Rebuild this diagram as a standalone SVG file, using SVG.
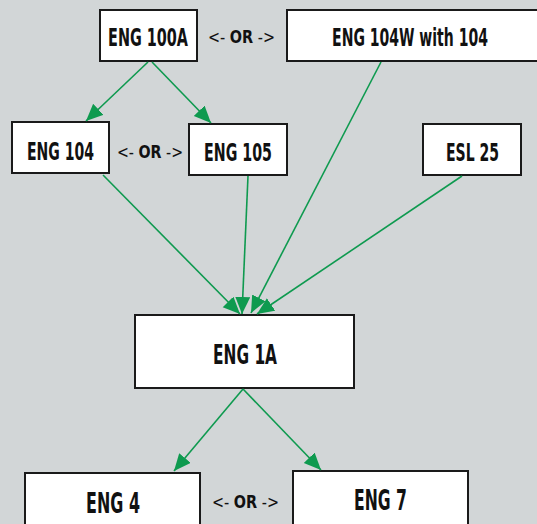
<svg xmlns="http://www.w3.org/2000/svg" width="537" height="524" viewBox="0 0 537 524">
<style>
.box{fill:#ffffff;stroke:#1a1a1a;stroke-width:2}
.lbl{font-family:"DejaVu Sans",sans-serif;font-weight:bold;fill:#111;text-anchor:middle}
.or{font-family:"DejaVu Sans",sans-serif;fill:#111;text-anchor:middle;font-size:18px}
.or .b{font-weight:bold}
.edge{stroke:#0e9a4f;stroke-width:1.6;fill:none;marker-end:url(#ah)}
</style>
<defs>
<marker id="ah" markerUnits="userSpaceOnUse" markerWidth="18" markerHeight="16" refX="17" refY="7.5" orient="auto">
<path d="M0,0 L17,7.5 L0,15 z" fill="#0e9a4f"/>
</marker>
</defs>
<rect x="0" y="0" width="537" height="524" fill="#d2d6d7"/>
<g id="eng100a"><rect class="box" x="100" y="10" width="97" height="51"/><text class="lbl" font-size="25" transform="translate(148,46) scale(0.576,1)">ENG 100A</text></g>
<g id="eng104w"><rect class="box" x="287" y="10" width="255" height="51"/><text class="lbl" font-size="25" transform="translate(410,46) scale(0.561,1)">ENG 104W with 104</text></g>
<g id="or1"><text class="or" transform="translate(241.5,43) scale(0.8,1)">&lt;- <tspan class="b">OR</tspan> -&gt;</text></g>
<g id="eng104"><rect class="box" x="12" y="122" width="97" height="51"/><text class="lbl" font-size="25" transform="translate(60.5,160) scale(0.561,1)">ENG 104</text></g>
<g id="or2"><text class="or" transform="translate(150,158) scale(0.79,1)">&lt;- <tspan class="b">OR</tspan> -&gt;</text></g>
<g id="eng105"><rect class="box" x="189" y="124" width="98" height="51"/><text class="lbl" font-size="25" transform="translate(238,161) scale(0.569,1)">ENG 105</text></g>
<g id="esl25"><rect class="box" x="423" y="124" width="98" height="51"/><text class="lbl" font-size="25" transform="translate(472.5,161) scale(0.561,1)">ESL 25</text></g>
<g id="eng1a"><rect class="box" x="135" y="315" width="219" height="73"/><text class="lbl" font-size="26" transform="translate(245,364) scale(0.592,1)">ENG 1A</text></g>
<g id="eng4"><rect class="box" x="25" y="473" width="175" height="60"/><text class="lbl" font-size="29" transform="translate(113,513) scale(0.55,1)">ENG 4</text></g>
<g id="or3"><text class="or" transform="translate(245.5,508) scale(0.8,1)">&lt;- <tspan class="b">OR</tspan> -&gt;</text></g>
<g id="eng7"><rect class="box" x="293" y="471" width="175" height="62"/><text class="lbl" font-size="29" transform="translate(380.5,510) scale(0.54,1)">ENG 7</text></g>
<g id="connectors">
<line class="edge" x1="148" y1="62" x2="86" y2="121"/>
<line class="edge" x1="152" y1="62" x2="211" y2="123"/>
<line class="edge" x1="381" y1="62" x2="251" y2="313"/>
<line class="edge" x1="103" y1="175" x2="240" y2="314"/>
<line class="edge" x1="248" y1="176" x2="242" y2="314"/>
<line class="edge" x1="462" y1="176" x2="257" y2="314"/>
<line class="edge" x1="243" y1="389" x2="174" y2="471"/>
<line class="edge" x1="243" y1="389" x2="321" y2="470"/>
</g>
</svg>
